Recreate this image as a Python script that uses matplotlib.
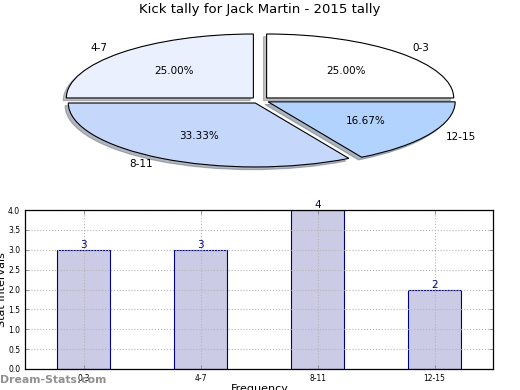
import matplotlib
matplotlib.use("Agg")
import matplotlib.pyplot as plt

title = "Kick tally for Jack Martin - 2015 tally"
intervals = ["0-3", "4-7", "8-11", "12-15"]
tally = [3, 3, 4, 2]
pie_colors = ["#ffffff", "#eaf0fd", "#c6d7fc", "#b2d3fe"]
explode = [0.05, 0.05, 0.05, 0.05]

fig = plt.figure(figsize=(5.2, 3.9), dpi=100)

# pie (squashed, not equal aspect)
ax1 = fig.add_axes([0.0, 0.538, 1.0, 0.41])
wedges, texts, autotexts = ax1.pie(tally, labels=intervals, colors=pie_colors,
                                   explode=explode, autopct="%1.2f%%",
                                   shadow=dict(ox=-0.012, oy=-0.03, shade=0.5),
                                   startangle=0, counterclock=True,
                                   wedgeprops=dict(edgecolor="black", linewidth=0.8),
                                   textprops=dict(fontsize=7.5))
ax1.set_aspect("auto")
ax1.set_xlim(-1.39, 1.39)
ax1.set_ylim(-1.25, 1.25)
fig.text(0.5, 1 - 10 / 390, title, ha="center", va="center", fontsize=9.5)

# bars
ax2 = fig.add_axes([25 / 520, 21 / 390, 468 / 520, 159 / 390])
x = range(len(intervals))
ax2.bar(x, tally, width=0.45, color="#cbcbe5", edgecolor="#000080", linewidth=0.8, zorder=1)
for xi, v in zip(x, tally):
    ax2.text(xi, v, str(v), ha="center", va="bottom", color="#000080", fontsize=7.5)
ax2.set_xlim(-0.5, 3.5)
ax2.set_ylim(0, 4)
ax2.set_xticks(list(x))
ax2.set_xticklabels(intervals)
ax2.set_yticks([0, 0.5, 1, 1.5, 2, 2.5, 3, 3.5, 4])
ax2.set_yticklabels(["%.1f" % t for t in [0, 0.5, 1, 1.5, 2, 2.5, 3, 3.5, 4]])
ax2.tick_params(labelsize=5.5, direction="in", top=True, right=True, length=3, width=0.6, color="#888888")
ax2.grid(True, linestyle=":", color="#b5b5b5", linewidth=0.8, zorder=1.5)
ax2.set_axisbelow(False)
for s in ax2.spines.values():
    s.set_linewidth(0.9)
    s.set_zorder(3)

fig.text(2 / 520, 100 / 390, "Stat Intervals", rotation=90, ha="center", va="center", fontsize=8)
fig.text(0.5, 1 / 390, "Frequency", ha="center", va="center", fontsize=8)
fig.text(0, 10 / 390, "Dream-Stats.com", ha="left", va="center", fontsize=7.8,
         color="#909090", fontweight="bold")

fig.savefig("out.png", dpi=100)
